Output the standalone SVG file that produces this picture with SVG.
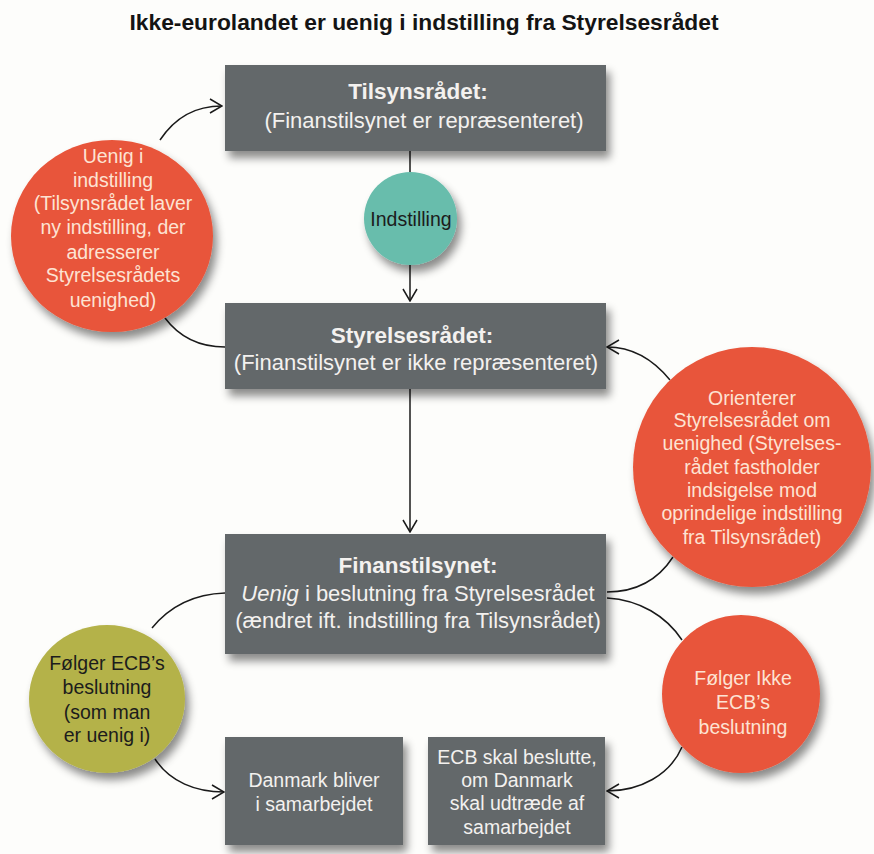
<svg xmlns="http://www.w3.org/2000/svg" width="874" height="854" viewBox="0 0 874 854">
  <defs>
    <filter id="shadow" x="-20%" y="-20%" width="150%" height="150%">
      <feDropShadow dx="4" dy="7" stdDeviation="4" flood-color="#000" flood-opacity="0.45"/>
    </filter>
    <marker id="arrow" viewBox="0 0 14 16" markerWidth="14" markerHeight="16" refX="13" refY="8" orient="auto" markerUnits="userSpaceOnUse">
      <path d="M1,1 L13,8 L1,15" fill="none" stroke="#1a1a1a" stroke-width="1.5"/>
    </marker>
    <style>
      .box { fill: #63676a; filter: url(#shadow); }
      .red { fill: #e8553a; filter: url(#shadow); }
      .teal { fill: #67bdac; filter: url(#shadow); }
      .olive { fill: #b4b24a; filter: url(#shadow); }
      .bt { font-family: "Liberation Sans", Arial, sans-serif; font-size: 22px; fill: #f3f1ef; text-anchor: middle; }
      .bh { font-family: "Liberation Sans", Arial, sans-serif; font-size: 22.5px; font-weight: bold; fill: #f3f1ef; text-anchor: middle; }
      .bs { font-family: "Liberation Sans", Arial, sans-serif; font-size: 19.5px; fill: #f3f1ef; text-anchor: middle; }
      .ct { font-family: "Liberation Sans", Arial, sans-serif; font-size: 19.5px; fill: #fde3d3; text-anchor: middle; }
      .dk { font-family: "Liberation Sans", Arial, sans-serif; font-size: 19.5px; fill: #1c1c1c; text-anchor: middle; }
      .conn { fill: none; stroke: #1a1a1a; stroke-width: 1.5; }
    </style>
  </defs>
  <rect x="0" y="0" width="874" height="854" fill="#fdfdfb"/>
  <text x="424" y="30" font-family="'Liberation Sans', Arial, sans-serif" font-size="22.8" font-weight="bold" fill="#141414" text-anchor="middle">Ikke-eurolandet er uenig i indstilling fra Styrelsesrådet</text>

  <g id="connectors">
    <path class="conn" d="M160,140 C176,116 196,106 222,106" marker-end="url(#arrow)"/>
    <path class="conn" d="M165,318 C180,338 200,347 225,347"/>
    <path class="conn" d="M410,151 L410,172"/>
    <path class="conn" d="M410,265 L410,301" marker-end="url(#arrow)"/>
    <path class="conn" d="M670,380 C652,358 632,347 607,347" marker-end="url(#arrow)"/>
    <path class="conn" d="M673,557 C658,580 636,592 607,592"/>
    <path class="conn" d="M410,389 L410,532" marker-end="url(#arrow)"/>
    <path class="conn" d="M607,598 C640,600 666,616 682,640"/>
    <path class="conn" d="M682,747 C670,775 640,791 607,791" marker-end="url(#arrow)"/>
    <path class="conn" d="M225,593 C195,594 170,606 152,628"/>
    <path class="conn" d="M155,759 C170,782 196,792 224,792" marker-end="url(#arrow)"/>
  </g>

  <g id="tilsynsraadet">
    <rect class="box" x="225" y="65" width="381" height="86"/>
    <text class="bh" x="418" y="99">Tilsynsrådet:</text>
    <text class="bt" x="424" y="128">(Finanstilsynet er repræsenteret)</text>
  </g>

  <g id="indstilling">
    <ellipse class="teal" cx="410.5" cy="218.5" rx="46.5" ry="46.5"/>
    <text class="dk" x="411" y="226">Indstilling</text>
  </g>

  <g id="uenig-indstilling">
    <ellipse class="red" cx="112" cy="236" rx="101" ry="96"/>
    <text class="ct" x="113" y="163">Uenig i</text>
    <text class="ct" x="113" y="187">indstilling</text>
    <text class="ct" x="113" y="210">(Tilsynsrådet laver</text>
    <text class="ct" x="113" y="234">ny indstilling, der</text>
    <text class="ct" x="113" y="259">adresserer</text>
    <text class="ct" x="113" y="282">Styrelsesrådets</text>
    <text class="ct" x="113" y="307">uenighed)</text>
  </g>

  <g id="styrelsesraadet">
    <rect class="box" x="225" y="303" width="381" height="86"/>
    <text class="bh" x="412" y="343">Styrelsesrådet:</text>
    <text class="bt" x="416" y="370">(Finanstilsynet er ikke repræsenteret)</text>
  </g>

  <g id="orienterer">
    <ellipse class="red" cx="752" cy="467" rx="119" ry="120"/>
    <text class="ct" x="752" y="405">Orienterer</text>
    <text class="ct" x="752" y="427">Styrelsesrådet om</text>
    <text class="ct" x="752" y="450">uenighed (Styrelses-</text>
    <text class="ct" x="752" y="474">rådet fastholder</text>
    <text class="ct" x="752" y="497">indsigelse mod</text>
    <text class="ct" x="752" y="520">oprindelige indstilling</text>
    <text class="ct" x="752" y="544">fra Tilsynsrådet)</text>
  </g>

  <g id="finanstilsynet">
    <rect class="box" x="225" y="534" width="381" height="120"/>
    <text class="bh" x="418" y="573">Finanstilsynet:</text>
    <text class="bt" x="418" y="601"><tspan font-style="italic">Uenig</tspan> i beslutning fra Styrelsesrådet</text>
    <text class="bt" x="418" y="628">(ændret ift. indstilling fra Tilsynsrådet)</text>
  </g>

  <g id="foelger-ecb">
    <ellipse class="olive" cx="107" cy="699" rx="78" ry="74"/>
    <text class="dk" x="107" y="670">Følger ECB’s</text>
    <text class="dk" x="107" y="694">beslutning</text>
    <text class="dk" x="107" y="719">(som man</text>
    <text class="dk" x="107" y="742">er uenig i)</text>
  </g>

  <g id="foelger-ikke-ecb">
    <ellipse class="red" cx="741" cy="694" rx="79" ry="79"/>
    <text class="ct" x="743" y="685">Følger Ikke</text>
    <text class="ct" x="743" y="709">ECB’s</text>
    <text class="ct" x="743" y="734">beslutning</text>
  </g>

  <g id="danmark-bliver">
    <rect class="box" x="225" y="737" width="178" height="108"/>
    <text class="bs" x="314" y="787">Danmark bliver</text>
    <text class="bs" x="314" y="811">i samarbejdet</text>
  </g>

  <g id="ecb-skal-beslutte">
    <rect class="box" x="428" y="737" width="177" height="108"/>
    <text class="bs" x="517" y="764">ECB skal beslutte,</text>
    <text class="bs" x="517" y="787">om Danmark</text>
    <text class="bs" x="517" y="810">skal udtræde af</text>
    <text class="bs" x="517" y="834">samarbejdet</text>
  </g>
</svg>
